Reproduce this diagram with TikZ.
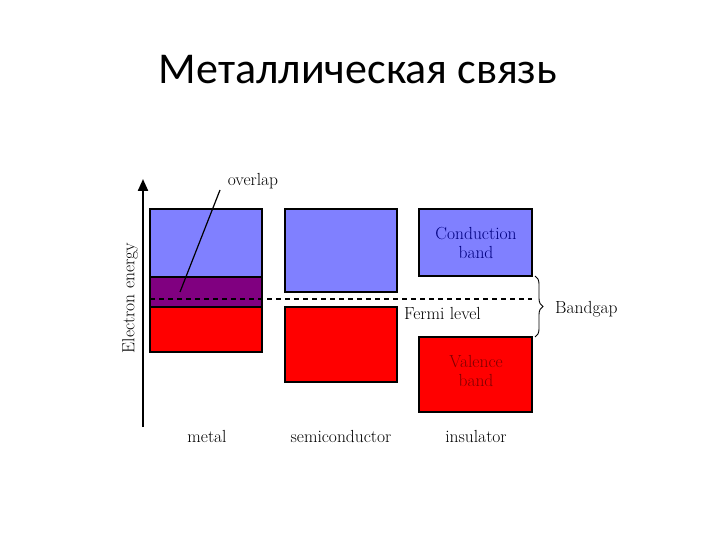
\documentclass[tikz,border=0pt]{standalone}
\usepackage{fontspec}
\newfontfamily\titlefont{Carlito}
\usetikzlibrary{decorations.pathreplacing,arrows.meta}
\definecolor{cband}{RGB}{128,128,255}
\definecolor{vband}{RGB}{255,0,0}
\definecolor{oband}{RGB}{128,0,128}
\begin{document}
\begin{tikzpicture}[x=1pt,y=-1pt,
  band/.style={draw=black,line width=1.2pt},
  lbl/.style={font=\fontsize{17.5}{19}\selectfont,inner sep=0pt}]
\useasboundingbox (0,0) rectangle (720,540);
\node[font=\titlefont\fontsize{44}{48}\selectfont] (title) at (358,70) {Металлическая связь};
% metal
\filldraw[band,fill=cband] (150,209) rectangle (262,277);
\filldraw[band,fill=oband] (150,277) rectangle (262,307);
\filldraw[band,fill=vband] (150,307) rectangle (262,352);
% semiconductor
\filldraw[band,fill=cband] (285,209) rectangle (397,292);
\filldraw[band,fill=vband] (285,307) rectangle (397,382);
% insulator
\filldraw[band,fill=cband] (419,209) rectangle (532,276);
\filldraw[band,fill=vband] (419,337) rectangle (532,412);
\fill[white] (148,205) rectangle (535,208.4);
% axis
\coordinate (ab) at (143,427);
\coordinate (at) at (143,179);
\draw[line width=2.2pt,-{Triangle[length=12pt,width=10pt]}] (ab) -- (at);
\node[lbl,rotate=90] (ee) at (130,298) {Electron energy};
% fermi
\draw[line width=1.8pt,dash pattern=on 5pt off 4pt] (150,299) -- (532,299);
\node[lbl,anchor=west] (fl) at (404,313) {Fermi level};
% overlap
\node[lbl] (ov) at (253,181) {overlap};
\coordinate (op) at (180,292);
\draw[line width=1.2pt] (220,190) -- (op);
% bandgap
\draw[line width=0.9pt,decorate,decoration={brace,amplitude=8pt}] (535,276) -- (535,337);
\node[lbl,anchor=west] (bg) at (555,309) {Bandgap};
\node[lbl,align=center,text=blue!50!black] (cb) at (476,243) {Conduction\\band};
\node[lbl,align=center,text=red!50!black] (vb) at (476,371) {Valence\\band};
\node[lbl] (m) at (207,436) {metal};
\node[lbl] (s) at (341,436) {semiconductor};
\node[lbl] (i) at (476,436) {insulator};
\end{tikzpicture}
\end{document}
